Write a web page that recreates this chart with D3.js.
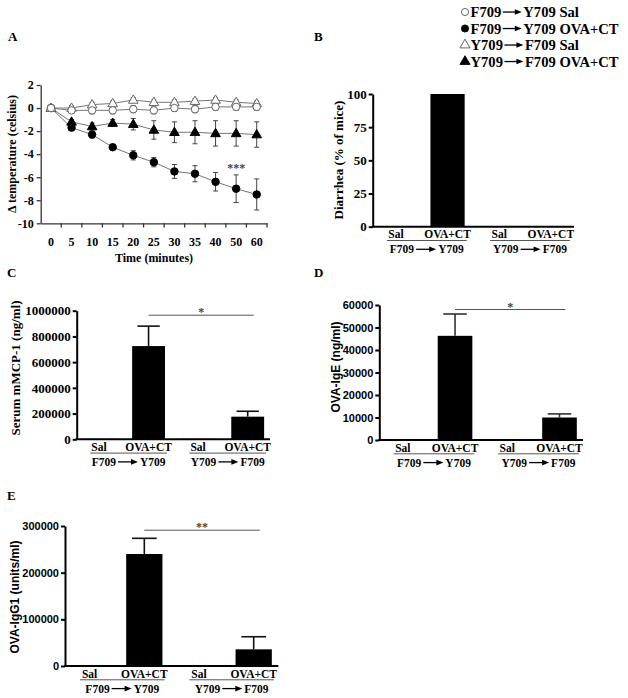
<!DOCTYPE html>
<html><head><meta charset="utf-8">
<script src="https://cdn.jsdelivr.net/npm/d3@7"></script>
<style>body{margin:0;background:#fff}svg{display:block}</style>
</head><body><svg id="c" width="628" height="698"></svg>
<script>
// ---------- DATA ----------
const timeLabels = ["0","5","10","15","20","25","30","35","40","50","60"];
const salF2Y    = [0,-0.2,-0.2,-0.2,-0.1,-0.2,0,-0.1,0.1,0.1,0.1];
const salF2YErr = [0,0.2,0.3,0.3,0.3,0.3,0.3,0.3,0.3,0.3,0.3];
const ovaF2Y    = [0,-1.7,-2.3,-3.4,-4.1,-4.7,-5.5,-5.7,-6.4,-7.0,-7.5];
const ovaF2YErr = [0,0.2,0.3,0.2,0.4,0.4,0.6,0.7,0.8,1.2,1.35];
const salY2F    = [0,0,0.3,0.4,0.7,0.5,0.5,0.6,0.7,0.5,0.4];
const salY2FErr = [0,0.2,0.2,0.2,0.2,0.2,0.2,0.2,0.2,0.2,0.2];
const ovaY2F    = [0,-1.2,-1.6,-1.3,-1.4,-1.9,-2.1,-2.1,-2.2,-2.2,-2.3];
const ovaY2FErr = [0,0.2,0.3,0.3,0.5,0.8,0.9,1.0,1.1,1.1,1.1];
const tempTicks = [-10,-8,-6,-4,-2,0,2];

const groups = [["F709","Y709"],["Y709","F709"]];
const treatments = ["Sal","OVA+CT"];
const diarrhea = [0,100,0,0];
const diarrheaTicks = [0,25,50,75,100];
const mcp1 = [4000,725000,4000,176000];
const mcp1Err = [0,155000,0,42000];
const mcp1Ticks = [0,200000,400000,600000,800000,1000000];
const ige = [0,46300,0,10000];
const igeErr = [0,9700,0,1600];
const igeTicks = [0,10000,20000,30000,40000,50000,60000];
const igg1 = [0,240000,0,35700];
const igg1Err = [0,33600,0,27000];
const igg1Ticks = [0,100000,200000,300000];
const legendLabels = [["F709","Y709 Sal"],["F709","Y709 OVA+CT"],["Y709","F709 Sal"],["Y709","F709 OVA+CT"]];

// ---------- HELPERS ----------
const SERIF = '"Liberation Serif","Times New Roman",serif';
const SANS = '"Liberation Sans",Arial,sans-serif';
const svg = d3.select("#c");

function txt(parent, x, y, s, o = {}) {
  return parent.append("text").attr("x", x).attr("y", y)
    .attr("font-family", o.font || SERIF).attr("font-weight", "bold")
    .attr("font-size", o.size || 12).attr("text-anchor", o.anchor || "start")
    .attr("fill", o.fill || "#000").text(s);
}
function vTitle(parent, cx, cy, s, o = {}) {
  parent.append("text").attr("transform", `translate(${cx},${cy}) rotate(-90)`)
    .attr("dy", "0.35em").attr("text-anchor", "middle")
    .attr("font-family", o.font || SERIF).attr("font-weight", "bold")
    .attr("font-size", o.size || 13).text(s);
}
function arrowText(parent, x, y, t1, t2, o = {}) {
  const size = o.size || 11, len = o.len || 18, gap = o.gap || 2;
  const g = parent.append("g");
  const a = txt(g, 0, y, t1, {size});
  const b = txt(g, 0, y, t2, {size});
  const w1 = a.node().getComputedTextLength(), w2 = b.node().getComputedTextLength();
  const total = w1 + gap + len + gap + w2;
  const x0 = o.anchor === "middle" ? x - total / 2 : x;
  a.attr("x", x0);
  const ax0 = x0 + w1 + gap, ax1 = ax0 + len, ay = y - size * 0.34;
  g.append("line").attr("x1", ax0).attr("x2", ax1 - 5).attr("y1", ay).attr("y2", ay)
    .attr("stroke", "#000").attr("stroke-width", 1.3);
  g.append("path").attr("d", `M${ax1},${ay}L${ax1-7},${ay-2.8}L${ax1-7},${ay+2.8}Z`).attr("fill", "#000");
  b.attr("x", ax1 + gap);
}

// ---------- PANEL LABELS ----------
[["A",8,41],["B",314,41],["C",7,277],["D",314,277],["E",7,500]].forEach(([l,x,y]) => txt(svg, x, y, l, {size: 13}));

// ---------- PANEL A ----------
const gA = svg.append("g");
const xA = d3.scaleBand().domain(timeLabels).range([40.7, 267]);
const yA = d3.scaleLinear().domain([-10, 2]).range([223.3, 85]);
const cx = i => xA(timeLabels[i]) + xA.bandwidth() / 2;

const yAxA = gA.append("g").attr("transform", "translate(40.7,0)")
  .call(d3.axisLeft(yA).tickValues(tempTicks).tickFormat(d => String(d)).tickSize(4).tickPadding(3).tickSizeOuter(0));
yAxA.selectAll("text").attr("font-family", SERIF).attr("font-weight", "bold").attr("font-size", 12);
yAxA.selectAll("path,line").attr("stroke", "#333").attr("stroke-width", 1.3);

const xAxA = gA.append("g").attr("transform", "translate(0,223.3)")
  .call(d3.axisBottom(xA).tickSize(0).tickPadding(14).tickSizeOuter(0));
xAxA.selectAll("text").attr("font-family", SERIF).attr("font-weight", "bold").attr("font-size", 12);
xAxA.select("path").attr("stroke", "#333").attr("stroke-width", 1.3);
gA.selectAll(".xtk").data(d3.range(1, timeLabels.length + 1)).join("line")
  .attr("x1", i => xA.range()[0] + i * xA.step()).attr("x2", i => xA.range()[0] + i * xA.step())
  .attr("y1", 223.3).attr("y2", 227.5).attr("stroke", "#333").attr("stroke-width", 1.3);
txt(gA, 154, 262, "Time (minutes)", {anchor: "middle", size: 12});
vTitle(gA, 12, 154, "Δ temperature (celsius)", {size: 12});

const seriesA = [
  {v: ovaY2F, e: ovaY2FErr, type: d3.symbolTriangle, fill: "#000"},
  {v: ovaF2Y, e: ovaF2YErr, type: d3.symbolCircle, fill: "#000"},
  {v: salY2F, e: salY2FErr, type: d3.symbolTriangle, fill: "#fff"},
  {v: salF2Y, e: salF2YErr, type: d3.symbolCircle, fill: "#fff"}
];
const line = d3.line().x((d, i) => cx(i)).y(d => yA(d));
seriesA.forEach(s => {
  gA.append("path").attr("d", line(s.v)).attr("fill", "none").attr("stroke", "#777").attr("stroke-width", 1);
});
seriesA.forEach(s => {
  const eg = gA.append("g").attr("stroke", "#444").attr("stroke-width", 1);
  s.v.forEach((v, i) => {
    if (!s.e[i]) return;
    const x = cx(i);
    eg.append("line").attr("x1", x).attr("x2", x).attr("y1", yA(v - s.e[i])).attr("y2", yA(v + s.e[i]));
    [v - s.e[i], v + s.e[i]].forEach(w => eg.append("line").attr("x1", x - 2.5).attr("x2", x + 2.5).attr("y1", yA(w)).attr("y2", yA(w)));
  });
});
seriesA.forEach(s => {
  gA.selectAll(null).data(s.v).join("path")
    .attr("d", d3.symbol().type(s.type).size(s.type === d3.symbolCircle ? 44 : 40))
    .attr("transform", (d, i) => `translate(${cx(i)},${yA(d) + (s.type === d3.symbolTriangle ? 0.5 : 0)})`)
    .attr("fill", s.fill).attr("stroke", s.fill === "#000" ? "#000" : "#666").attr("stroke-width", 1);
});
txt(gA, cx(9), yA(-5.1) + 5, "***", {anchor: "middle", size: 12, fill: "#444"});

// ---------- LEGEND ----------
const gL = svg.append("g");
const legSym = [[d3.symbolCircle, "#fff"], [d3.symbolCircle, "#000"], [d3.symbolTriangle, "#fff"], [d3.symbolTriangle, "#000"]];
legendLabels.forEach((lab, i) => {
  const cy = 12 + i * 16.5;
  gL.append("path").attr("d", d3.symbol().type(legSym[i][0]).size(legSym[i][0] === d3.symbolCircle ? 40 : 44))
    .attr("transform", `translate(465,${cy})`).attr("fill", legSym[i][1])
    .attr("stroke", legSym[i][1] === "#000" ? "#000" : "#555").attr("stroke-width", 0.9);
  arrowText(gL, 470.5, cy + 5, lab[0], lab[1], {size: 14.6, len: 19, gap: 1.5});
});

// ---------- BAR PANELS ----------
function barPanel(c) {
  const g = svg.append("g");
  const keys = ["g1s", "g1o", "g2s", "g2o"];
  const W = c.x1 - c.x0;
  const x = d3.scalePoint().domain(keys).range([c.x0, c.x1]).padding(0.45);
  const y = d3.scaleLinear().domain([0, d3.max(c.ticks)]).range([c.yBot, c.yTop]);
  const bw = 0.17 * W;
  keys.forEach((k, i) => {
    const v = c.values[i];
    if (v > 0) g.append("rect").attr("x", x(k) - bw / 2).attr("y", y(v)).attr("width", bw)
      .attr("height", c.yBot - y(v)).attr("fill", "#000");
    const e = c.errs ? c.errs[i] : 0;
    if (e > 0) {
      const xx = x(k), cw = bw * 0.34;
      g.append("line").attr("x1", xx).attr("x2", xx).attr("y1", y(v)).attr("y2", y(v + e)).attr("stroke", c.errColor || "#111").attr("stroke-width", 1.6);
      g.append("line").attr("x1", xx - cw).attr("x2", xx + cw).attr("y1", y(v + e)).attr("y2", y(v + e)).attr("stroke", c.errColor || "#111").attr("stroke-width", 1.6);
    }
  });
  const ya = g.append("g").attr("transform", `translate(${c.x0},0)`)
    .call(d3.axisLeft(y).tickValues(c.ticks).tickFormat(d3.format("d")).tickSize(4).tickPadding(2).tickSizeOuter(0));
  ya.selectAll("text").attr("font-family", c.tickFont).attr("font-weight", "bold").attr("font-size", c.tickSize);
  ya.selectAll("path,line").attr("stroke", "#000").attr("stroke-width", 2);
  g.append("line").attr("x1", c.x0 - 1).attr("x2", c.x1).attr("y1", c.yBot).attr("y2", c.yBot).attr("stroke", "#000").attr("stroke-width", 2);
  keys.forEach((k, i) => txt(g, x(k), c.yBot + 11.5, treatments[i % 2], {anchor: "middle", size: 11.5}));
  [[keys[0], keys[1]], [keys[2], keys[3]]].forEach(([a, b], gi) => {
    const u0 = x(a) - 0.045 * W, u1 = x(b) + 0.095 * W;
    g.append("line").attr("x1", u0).attr("x2", u1).attr("y1", c.yBot + 13.8).attr("y2", c.yBot + 13.8)
      .attr("stroke", "#555").attr("stroke-width", 1);
    arrowText(g, (u0 + u1) / 2, c.yBot + 26.5, groups[gi][0], groups[gi][1], {size: 11.5, len: 20, anchor: "middle"});
  });
  vTitle(g, c.titleX, c.titleY, c.title, {font: c.titleFont, size: c.titleSize});
  if (c.sig) {
    const sy = y(c.sig[0]);
    g.append("line").attr("x1", x("g1o")).attr("x2", x("g2o") + 6).attr("y1", sy).attr("y2", sy).attr("stroke", "#555").attr("stroke-width", 1);
    txt(g, (x("g1o") + x("g2o") + 6) / 2, sy + 1, c.sig[1], {anchor: "middle", size: 12, fill: "#444"});
  }
}

barPanel({x0: 372.7, x1: 574, yTop: 94, yBot: 226.7, ticks: diarrheaTicks, values: diarrhea, errs: null,
  tickFont: SERIF, tickSize: 13, title: "Diarrhea (% of mice)", titleFont: SERIF, titleSize: 13, titleX: 338, titleY: 160});
barPanel({x0: 76.7, x1: 270, yTop: 310.7, yBot: 439.3, ticks: mcp1Ticks, values: mcp1, errs: mcp1Err,
  tickFont: SERIF, tickSize: 13, title: "Serum mMCP-1 (ng/ml)", titleFont: SERIF, titleSize: 13, titleX: 15, titleY: 368,
  sig: [965000, "*"]});
barPanel({x0: 379.3, x1: 583, yTop: 305, yBot: 440, ticks: igeTicks, values: ige, errs: igeErr, errColor: "#333",
  tickFont: SANS, tickSize: 11, title: "OVA-IgE (ng/ml)", titleFont: SANS, titleSize: 12, titleX: 336, titleY: 367,
  sig: [58000, "*"]});
barPanel({x0: 65, x1: 278.3, yTop: 526, yBot: 666, ticks: igg1Ticks, values: igg1, errs: igg1Err,
  tickFont: SANS, tickSize: 11, title: "OVA-IgG1 (units/ml)", titleFont: SANS, titleSize: 12, titleX: 15, titleY: 597,
  sig: [291000, "**"]});
</script></body></html>
